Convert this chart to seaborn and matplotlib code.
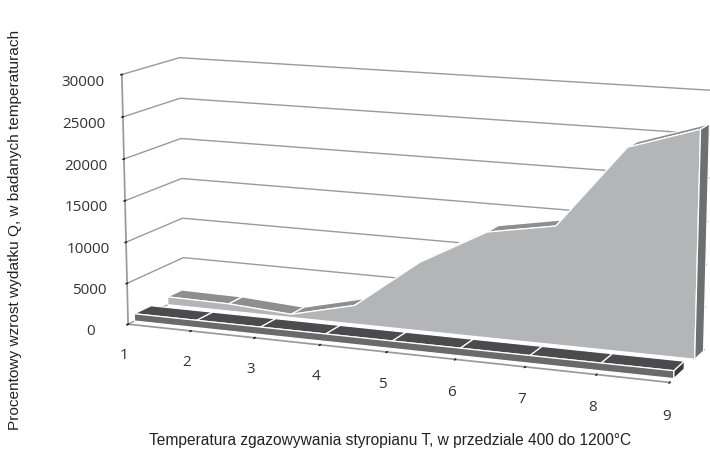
import matplotlib
matplotlib.use("Agg")
import matplotlib.pyplot as plt
import seaborn as sns
import numpy as np
from matplotlib.patches import Polygon
from mpl_toolkits.mplot3d import proj3d

# ---- data ----
categories = [1, 2, 3, 4, 5, 6, 7, 8, 9]
front_series = [900, 900, 900, 900, 900, 900, 900, 900, 900]
back_series = [1000, 900, 400, 2300, 8300, 12600, 14000, 23700, 26300]
value_ticks = [0, 5000, 10000, 15000, 20000, 25000, 30000]
x_title = "Temperatura zgazowywania styropianu T, w przedziale 400 do 1200°C"
y_title = "Procentowy wzrost wydatku Q, w badanych temperaturach"

sns.set_theme(style="white")
plt.rcParams['font.family'] = ['Liberation Sans', 'DejaVu Sans']

fig = plt.figure(figsize=(7.1, 4.56), dpi=100)
ax = fig.add_axes([0.09, 0.032, 0.96, 0.98], projection='3d', proj_type='persp', focal_length=1.0)
ax.view_init(elev=12, azim=-68)

ax.set_xlim(1, 9)
ax.set_ylim(0, 2)
ax.set_zlim(0, 30000)
ax.set_xticks(categories)
ax.set_xticklabels([str(c) for c in categories], fontsize=11, family=['Open Sans', 'DejaVu Sans'],
                   color='#333333')
ax.set_yticks([])
ax.set_zticks(value_ticks)
ax.set_zticklabels([str(v) for v in value_ticks], fontsize=11, family=['Open Sans', 'DejaVu Sans'],
                   color='#333333')
ax.zaxis.set_ticks_position('lower')
ax.tick_params(axis='x', pad=6)

for axis in (ax.xaxis, ax.yaxis, ax.zaxis):
    axis.pane.set_facecolor((1, 1, 1, 0))
    axis.pane.set_edgecolor((1, 1, 1, 0))
    axis.line.set_color('#9a9a9a')
ax.yaxis.line.set_color((1, 1, 1, 0))
ax.xaxis._axinfo['grid']['color'] = (1, 1, 1, 0)
ax.yaxis._axinfo['grid']['color'] = (1, 1, 1, 0)
ax.zaxis._axinfo['grid']['color'] = '#9a9a9a'
ax.zaxis._axinfo['grid']['linewidth'] = 1.0
ax.set_box_aspect((4.6, 1.0, 2.07), zoom=1.3 * 5.14 / 4.76)

# fix the projection, then draw the series faces through it
fig.canvas.draw()
M = ax.get_proj()
zc = [1.0]


def face(pts, color):
    arr = np.array(pts, dtype=float)
    px, py, _ = proj3d.proj_transform(arr[:, 0], arr[:, 1], arr[:, 2], M)
    poly = Polygon(np.column_stack([px, py]), closed=True, transform=ax.transData,
                   facecolor=color, edgecolor='white', linewidth=0.9, zorder=zc[0])
    zc[0] += 0.01
    fig.add_artist(poly)


def ribbon(xs, zs, y0, y1, front_c, top_c, end_c):
    for i in range(len(xs) - 1):
        face([(xs[i], y0, zs[i]), (xs[i + 1], y0, zs[i + 1]),
              (xs[i + 1], y1, zs[i + 1]), (xs[i], y1, zs[i])], top_c)
    face([(x, y0, z) for x, z in zip(xs, zs)] + [(xs[-1], y0, 0), (xs[0], y0, 0)], front_c)
    face([(xs[-1], y0, 0), (xs[-1], y0, zs[-1]), (xs[-1], y1, zs[-1]), (xs[-1], y1, 0)], end_c)


ribbon(categories, back_series, 1.4, 1.92, '#b3b5b7', '#8e8e8e', '#6f6f6f')
ribbon(categories, front_series, 0.22, 0.8, '#6a6a6a', '#4b4b4d', '#3a3a3a')

fig.text(0.55, 0.033, x_title, ha='center', va='center', fontsize=11.2, color='#222222')
fig.text(0.021, 0.495, y_title, ha='center', va='center', rotation=90, fontsize=11.1, color='#222222')

fig.savefig('out.png', dpi=100)
